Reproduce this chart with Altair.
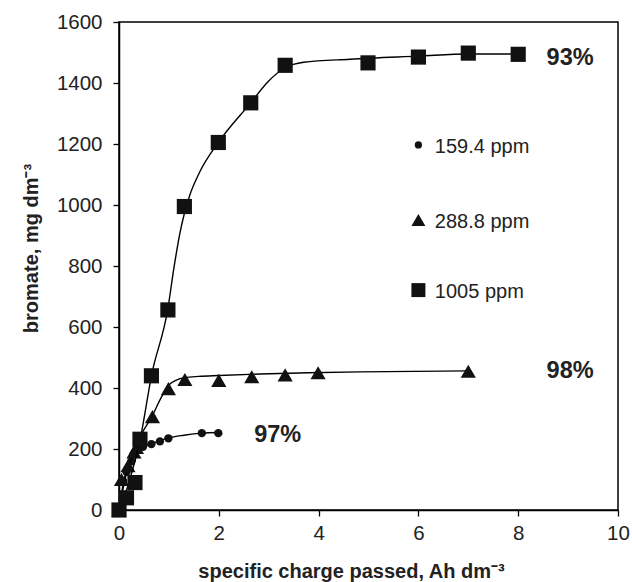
import altair as alt
import pandas as pd

# Bromate formed vs. specific charge passed, three initial bromide levels
# measured points
x_159 = [0, 0.08, 0.15, 0.25, 0.33, 0.48, 0.65, 0.82, 0.99, 1.66, 1.99]
y_159 = [0, 95, 125, 160, 190, 207, 216, 225, 235, 252, 252]

x_289 = [0, 0.05, 0.18, 0.3, 0.35, 0.67, 0.99, 1.32, 2.0, 2.66, 3.33, 3.99, 7.0]
y_289 = [0, 100, 145, 190, 205, 306, 398, 428, 425, 437, 443, 450, 455]

x_1005 = [0, 0.15, 0.32, 0.42, 0.65, 0.98, 1.31, 1.99, 2.64, 3.33, 4.99, 6.0, 7.0, 8.0]
y_1005 = [0, 40, 90, 232, 440, 656, 995, 1205, 1335, 1458, 1466, 1485, 1498, 1494]

# smoothed trend lines through each data set
fit_x_159 = [0, 0.1, 0.25, 0.45, 0.7, 0.99, 1.3, 1.66, 1.99]
fit_y_159 = [0, 100, 165, 205, 220, 236, 245, 252, 254]

fit_x_289 = [0, 0.15, 0.3, 0.44, 0.67, 0.85, 1.0, 1.15, 1.32, 1.6, 2.0, 2.83, 3.8, 4.83, 7.0]
fit_y_289 = [0, 120, 190, 245, 310, 370, 410, 426, 434, 438, 441, 446, 450, 453, 456]

fit_x_1005 = [0, 0.2, 0.44, 0.65, 0.98, 1.1, 1.22, 1.31, 1.42, 1.62, 1.99, 2.64, 2.99,
              3.33, 3.7, 4.63, 6.0, 7.0, 8.0]
fit_y_1005 = [0, 90, 245, 440, 661, 793, 907, 972, 1033, 1109, 1205, 1335, 1405,
              1450, 1468, 1478, 1488, 1495, 1495]

series_names = ["159.4 ppm", "288.8 ppm", "1005 ppm"]
series_shapes = ["circle", "triangle-up", "square"]
series_sizes = [70, 230, 230]

# legend entries placed inside the plot
legend_x = [6.0, 6.0, 6.0]
legend_y = [1197, 951, 721]
legend_text_x = [6.33, 6.33, 6.33]

# conversion efficiencies written next to each curve
pct_text = ["97%", "98%", "93%"]
pct_x = [3.18, 9.04, 9.04]
pct_y = [246, 456, 1482]

FONT = "Liberation Sans"

xs = [x_159, x_289, x_1005]
ys = [y_159, y_289, y_1005]
fxs = [fit_x_159, fit_x_289, fit_x_1005]
fys = [fit_y_159, fit_y_289, fit_y_1005]

x_scale = alt.Scale(domain=[0, 10], nice=False, zero=False)
y_scale = alt.Scale(domain=[0, 1600], nice=False, zero=False)

layers = []
for name, shape, size, xv, yv, fx, fy in zip(series_names, series_shapes, series_sizes, xs, ys, fxs, fys):
    fit_df = pd.DataFrame({"x": fx, "y": fy, "series": name})
    layers.append(
        alt.Chart(fit_df).mark_line(color="black", strokeWidth=1.4, interpolate="monotone")
        .encode(x=alt.X("x:Q", scale=x_scale), y=alt.Y("y:Q", scale=y_scale))
    )
    df = pd.DataFrame({"x": xv, "y": yv, "series": name})
    layers.append(
        alt.Chart(df).mark_point(shape=shape, size=size, filled=True, color="#111111", opacity=1)
        .encode(x=alt.X("x:Q", scale=x_scale), y=alt.Y("y:Q", scale=y_scale))
    )

# legend markers and labels
for name, shape, size, lx, ly, tx in zip(series_names, series_shapes, series_sizes, legend_x, legend_y, legend_text_x):
    ldf = pd.DataFrame({"x": [lx], "y": [ly], "tx": [tx], "label": [name]})
    layers.append(
        alt.Chart(ldf).mark_point(shape=shape, size=size * (0.75 if shape == "circle" else 0.85),
                                  filled=True, color="#111111", opacity=1)
        .encode(x=alt.X("x:Q", scale=x_scale), y=alt.Y("y:Q", scale=y_scale))
    )
    layers.append(
        alt.Chart(ldf).mark_text(align="left", baseline="middle", font=FONT, fontSize=20, color="#222222", dy=2)
        .encode(x=alt.X("tx:Q", scale=x_scale), y=alt.Y("y:Q", scale=y_scale), text="label:N")
    )

pdf = pd.DataFrame({"x": pct_x, "y": pct_y, "t": pct_text})
layers.append(
    alt.Chart(pdf).mark_text(align="center", baseline="middle", font=FONT, fontSize=23.5,
                             fontWeight="bold", color="#222222")
    .encode(x=alt.X("x:Q", scale=x_scale), y=alt.Y("y:Q", scale=y_scale), text="t:N")
)

axis_common = dict(
    domainColor="black", domainWidth=1.5, tickColor="black", tickWidth=1.3, tickSize=6,
    labelFont=FONT, labelFontSize=20.5, labelColor="#222222", grid=False, format="d",
    labelFlush=False, labelOverlap=False,
    titleFont=FONT, titleFontSize=20, titleFontWeight="bold", titleColor="#222222",
)

chart = alt.layer(*layers).encode(
    x=alt.X("x:Q", scale=x_scale,
            axis=alt.Axis(values=[0, 2, 4, 6, 8, 10], title="specific charge passed, Ah dm⁻³",
                          labelPadding=7, titleX=232, titleY=61, titleAnchor=None,
                          titleAlign="center", titleBaseline="middle", **axis_common)),
    y=alt.Y("y:Q", scale=y_scale,
            axis=alt.Axis(values=list(range(0, 1601, 200)), title="bromate, mg dm⁻³",
                          labelPadding=11, titleX=-88, titleY=226, titleAngle=-90,
                          titleAlign="center", titleBaseline="middle", **axis_common)),
).properties(
    width=499, height=488,
    autosize=alt.AutoSizeParams(type="none"),
    padding={"left": 119, "top": 22, "right": 14, "bottom": 72},
    background="white",
).configure_view(stroke="black", strokeWidth=1.5)

chart.save("out.html", embed_options={"renderer": "svg", "actions": False})
